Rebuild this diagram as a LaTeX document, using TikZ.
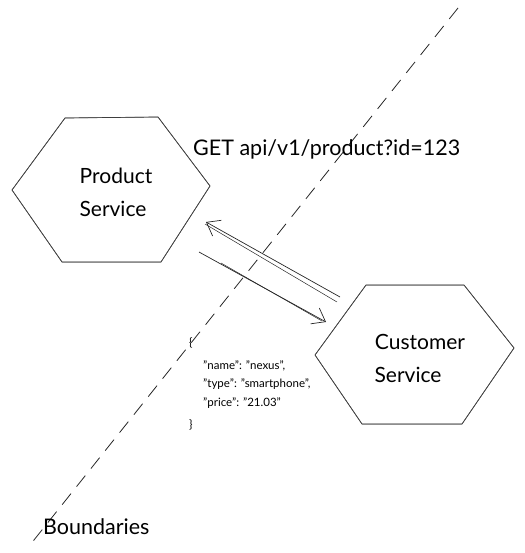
\documentclass[tikz,border=0pt]{standalone}
\usepackage{fontspec}
\setmainfont{Lato}
\usetikzlibrary{arrows.meta}
\begin{document}
\begin{tikzpicture}[x=1pt,y=-1pt,
  sk/.style={draw=black!85,line width=0.7pt,line join=round},
  lbl/.style={font=\fontsize{21}{24}\selectfont,inner sep=0pt},
  big/.style={font=\fontsize{21.5}{24}\selectfont,inner sep=0pt},
  json/.style={font=\fontsize{11.5}{14}\selectfont,inner sep=0pt,anchor=west},
  arr/.style={draw=black!85,line width=0.7pt,-{Straight Barb[length=12pt,width=18pt,line width=0.7pt]}}]
\useasboundingbox (0,0) rectangle (524,553);
% boundary
\coordinate (b1) at (458,8);
\coordinate (b2) at (30,545);
\draw[black!85,line width=0.8pt,dash pattern=on 14pt off 9pt] (b1) -- (b2);
% Product hexagon
\coordinate (p1) at (12,190);
\coordinate (p2) at (65,118);
\coordinate (p3) at (158,117);
\coordinate (p4) at (210,186);
\coordinate (p5) at (161,262);
\coordinate (p6) at (62,262);
\draw[sk] (p1) -- (p2) -- (p3) -- (p4) -- (p5) -- (p6) -- cycle;
\draw[sk,black!70,line width=0.5pt,shift={(2,1.5)}] (p1) -- (p2) -- (p3) -- (p4) -- (p5) -- (p6) -- cycle;
\node[lbl] (prod1) at (116,176) {Product};
\node[lbl] (prod2) at (113,209) {Service};
% Customer hexagon
\coordinate (c1) at (315,355);
\coordinate (c2) at (366,285);
\coordinate (c3) at (464,285);
\coordinate (c4) at (514,348);
\coordinate (c5) at (462,424);
\coordinate (c6) at (362,424);
\draw[sk] (c1) -- (c2) -- (c3) -- (c4) -- (c5) -- (c6) -- cycle;
\draw[sk,black!70,line width=0.5pt,shift={(-2,1.5)}] (c1) -- (c2) -- (c3) -- (c4) -- (c5) -- (c6) -- cycle;
\node[lbl] (cust1) at (420,342) {Customer};
\node[lbl] (cust2) at (408,375) {Service};
% arrows
\coordinate (a1s) at (340,297);
\coordinate (a1e) at (206,222);
\draw[arr] (a1s) -- (a1e);
\draw[sk,line width=0.5pt] ([shift={(-3,5)}]a1s) -- ([shift={(-1,2)}]a1e);
\coordinate (a2s) at (199,252);
\coordinate (a2e) at (326,322);
\draw[arr] (a2s) -- (a2e);
\draw[sk,line width=0.5pt] ([shift={(22,11)}]a2s) -- ([shift={(-4,-1)}]a2e);
% labels
\node[big,anchor=west] (get) at (193,149) {GET api/v1/product?id=123};
\node[json] (j0) at (189,343) {\{};
\node[json] (j1) at (203,366) {"name": "nexus",};
\node[json] (j2) at (203,384) {"type": "smartphone",};
\node[json] (j3) at (203,403) {"price": "21.03"};
\node[json] (j4) at (189,425) {\}};
\node[big,anchor=west] (bnd) at (43,527) {Boundaries};
\end{tikzpicture}
\end{document}
